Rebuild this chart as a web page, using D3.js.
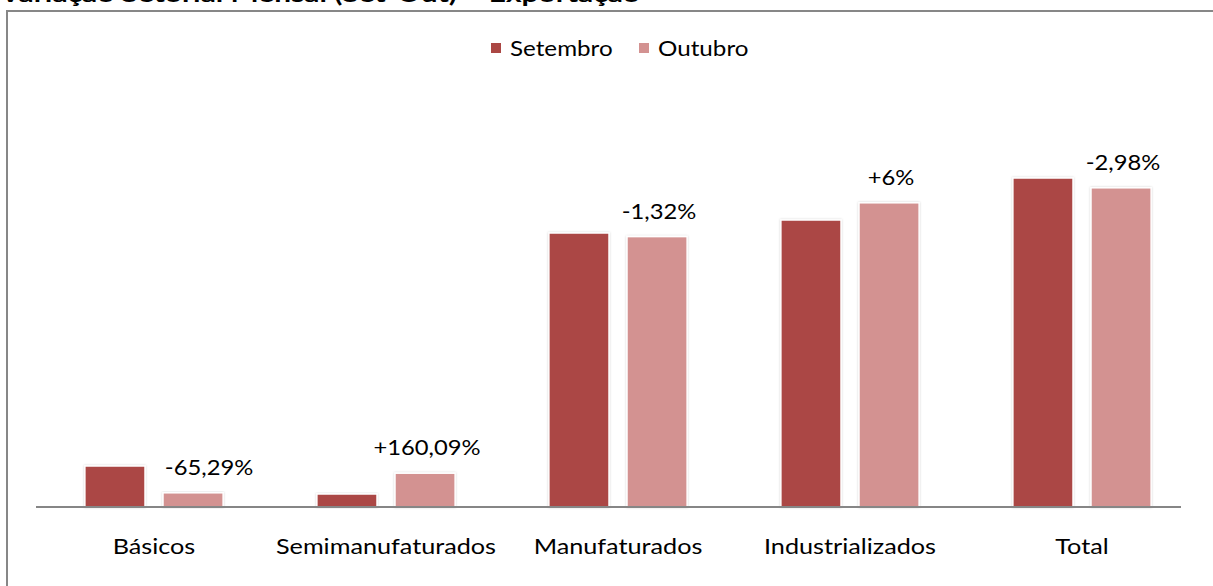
<!DOCTYPE html>
<html>
<head>
<meta charset="utf-8">
<script src="https://cdn.jsdelivr.net/npm/d3@7"></script>
<style>
  body { margin: 0; background: #fff; }
  svg { display: block; font-family: Lato, "Open Sans", sans-serif; }
</style>
</head>
<body>
<svg width="1213" height="586"></svg>
<script>
const categories = ["Básicos", "Semimanufaturados", "Manufaturados", "Industrializados", "Total"];
const seriesNames = ["Setembro", "Outubro"];
const setembro = [4.1, 1.3, 27.4, 28.7, 32.9];
const outubro = [1.42, 3.38, 27.04, 30.42, 31.92];
const changeLabels = ["-65,29%", "+160,09%", "-1,32%", "+6%", "-2,98%"];
const colors = ["#ab4744", "#d39291"];

const svg = d3.select("svg");
const width = 1213, height = 586;
const baseline = 507;

// widen text a bit, the source font runs wider than Lato
function stretch(sel, k) {
  sel.each(function () {
    const w = this.getComputedTextLength();
    d3.select(this).attr("textLength", w * k).attr("lengthAdjust", "spacingAndGlyphs");
  });
}

// title, clipped at the top like the source
svg.append("text")
  .attr("x", 0)
  .attr("y", 2)
  .attr("font-weight", "bold")
  .attr("font-size", 22)
  .attr("textLength", 640)
  .attr("lengthAdjust", "spacingAndGlyphs")
  .attr("fill", "#000")
  .text("Variação Setorial Mensal (Set-Out) – Exportação");

// chart frame
svg.append("rect")
  .attr("x", 7)
  .attr("y", 11)
  .attr("width", width + 10)
  .attr("height", height + 10)
  .attr("fill", "none")
  .attr("stroke", "#878787")
  .attr("stroke-width", 2);

const x = d3.scaleBand()
  .domain(categories)
  .range([38, 1198]);

const xInner = d3.scaleBand()
  .domain(seriesNames)
  .range([0, x.bandwidth()])
  .paddingInner(0.23)
  .paddingOuter(0.6);

const y = d3.scaleLinear()
  .domain([0, 35])
  .range([baseline, baseline - 350]);

// soft shadow around bars
const defs = svg.append("defs");
const f = defs.append("filter").attr("id", "glow").attr("x", "-10%").attr("y", "-10%").attr("width", "120%").attr("height", "120%");
f.append("feDropShadow").attr("dx", 0).attr("dy", 0).attr("stdDeviation", 1.2)
  .attr("flood-color", "#000").attr("flood-opacity", 0.18);

const rows = categories.map((c, i) => ({ cat: c, vals: [setembro[i], outubro[i]], label: changeLabels[i] }));

const groups = svg.selectAll("g.cat")
  .data(rows)
  .enter()
  .append("g")
  .attr("class", "cat")
  .attr("transform", d => `translate(${x(d.cat)},0)`);

groups.selectAll("rect")
  .data(d => d.vals.map((v, j) => ({ name: seriesNames[j], v, j })))
  .enter()
  .append("rect")
  .attr("x", d => xInner(d.name))
  .attr("y", d => y(d.v))
  .attr("width", xInner.bandwidth())
  .attr("height", d => baseline - y(d.v))
  .attr("fill", d => colors[d.j])
  .attr("stroke", "#fff")
  .attr("stroke-width", 1.5)
  .attr("filter", "url(#glow)");

// variation labels above the Outubro bars
const labels = groups.append("text")
  .attr("x", (d, i) => xInner("Outubro") + xInner.bandwidth() / 2 + (i === 0 ? 16 : 2))
  .attr("y", d => y(d.vals[1]) - 18)
  .attr("text-anchor", "middle")
  .attr("font-size", 22)
  .attr("fill", "#000")
  .text(d => d.label);
stretch(labels, 1.08);

// x axis
const xAxis = d3.axisBottom(x).tickSize(0).tickPadding(32);
const axis = svg.append("g")
  .attr("transform", `translate(0,${baseline})`)
  .call(xAxis);
// the axis line stops a bit short of the last band on the right
axis.select(".domain")
  .attr("d", "M36,0H1181")
  .attr("stroke", "#868686")
  .attr("stroke-width", 2);
axis.selectAll("text")
  .attr("font-size", 21)
  .attr("font-family", "Lato, sans-serif")
  .attr("fill", "#000")
  .call(stretch, 1.2);

// legend
const legend = svg.append("g").attr("class", "legend");
const legendX = [491, 639];
seriesNames.forEach((s, i) => {
  legend.append("rect")
    .attr("x", legendX[i])
    .attr("y", 43)
    .attr("width", 10)
    .attr("height", 10)
    .attr("fill", colors[i]);
  legend.append("text")
    .attr("x", legendX[i] + 19)
    .attr("y", 56)
    .attr("font-size", 22)
    .attr("fill", "#000")
    .text(s)
    .call(stretch, 1.1);
});
</script>
</body>
</html>
